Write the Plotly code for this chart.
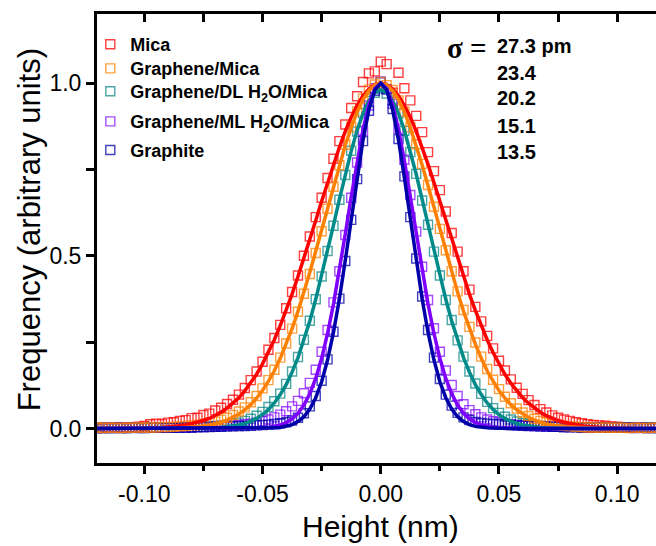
import numpy as np
import plotly.graph_objects as go

# Height bins (nm), 0.0025 nm spacing
X = np.round(np.arange(-48, 49) * 0.0025, 4)

SERIES = ["Mica", "Graphene/Mica", "Graphene/DL H<sub>2</sub>O/Mica",
          "Graphene/ML H<sub>2</sub>O/Mica", "Graphite"]
SIGMA_LABELS = ["27.3 pm", "23.4", "20.2", "15.1", "13.5"]

RED_PTS = [0.002,0.003,0.002,0.003,0.003,0.004,0.004,0.005,0.007,
           0.012,0.014,0.013,0.017,0.018,0.022,0.024,0.030,0.031,0.039,
           0.043,0.052,0.060,0.071,0.083,0.098,0.117,0.140,0.165,0.193,
           0.228,0.262,0.300,0.348,0.395,0.443,0.500,0.556,0.612,0.668,
           0.725,0.781,0.832,0.880,0.928,0.962,1.003,1.028,1.034,
           1.062,
           1.055,0.972,1.030,0.985,0.950,0.905,0.858,0.800,0.745,0.690,
           0.628,0.566,0.512,0.455,0.402,0.352,0.310,0.268,0.232,0.196,
           0.168,0.142,0.118,0.100,0.082,0.068,0.056,0.046,0.038,0.031,
           0.026,0.022,0.018,0.015,0.012,0.010,0.009,0.008,0.006,0.005,
           0.004,0.003,0.003,0.002,0.003,0.002,0.002,0.002]
RED_FIT = [0,0,0,0,0,0,0,
           0.001,0.001,0.002,0.002,0.003,0.004,0.006,0.008,0.010,0.014,
           0.018,0.023,0.029,0.037,0.047,0.059,0.073,0.089,0.109,0.131,
           0.157,0.187,0.220,0.257,0.298,0.342,0.389,0.440,0.492,0.547,
           0.602,0.658,0.712,0.765,0.814,0.860,0.901,0.935,0.963,0.983,0.996,
           1.000,
           0.996,0.983,0.963,0.935,0.901,0.860,0.814,0.765,0.712,0.658,0.602,
           0.547,0.492,0.440,0.389,0.342,0.298,0.257,0.220,0.187,0.157,
           0.131,0.109,0.089,0.073,0.059,0.047,0.037,0.029,0.023,0.018,
           0.014,0.010,0.008,0.006,0.004,0.003,0.002,0.002,0.001,0.001,
           0,0,0,0,0,0,0]

ORANGE_PTS = [0.002,0.001,0.002,0.002,0.001,0.002,0.002,0.003,0.002,0.003,0.003,0.004,0.004,
              0.005,0.006,0.007,0.009,0.010,0.013,0.016,0.020,0.025,0.031,
              0.039,0.049,0.061,0.076,0.094,0.116,0.140,0.170,0.205,0.246,
              0.289,0.338,0.390,0.447,0.508,0.571,0.636,0.700,0.762,0.822,
              0.873,0.918,0.955,0.981,0.996,
              1.003,
              0.994,0.980,0.950,0.917,0.872,0.823,0.766,0.705,0.642,0.578,
              0.516,0.455,0.397,0.343,0.294,0.249,0.208,0.172,0.141,0.114,
              0.092,0.073,0.058,0.046,0.036,0.028,0.022,0.017,0.013,0.010,
              0.008,0.006,0.005,0.004,0.003,0.003,
              0.002,0.003,0.002,0.002,0.002,0.001,0.002,0.002,0.001,0.002,0.002,0.001]
ORANGE_FIT = [0,0,0,0,0,0,0,0,0,0,0,0,
              0.001,0.001,0.002,0.003,0.004,0.005,0.007,0.010,0.013,0.018,
              0.024,0.032,0.042,0.054,0.069,0.088,0.110,0.137,0.167,0.203,
              0.244,0.289,0.339,0.394,0.452,0.513,0.576,0.640,0.703,0.763,
              0.820,0.871,0.916,0.952,0.978,0.995,
              1.000,
              0.995,0.978,0.952,0.916,0.871,0.820,
              0.763,0.703,0.640,0.576,0.513,0.452,0.394,0.339,0.289,0.244,
              0.203,0.167,0.137,0.110,0.088,0.069,0.054,0.042,0.032,0.024,
              0.018,0.013,0.010,0.007,0.005,0.004,0.003,0.002,0.001,0.001,
              0,0,0,0,0,0,0,0,0,0,0,0]

TEAL_PTS = [0.001,0.002,0.001,0.001,0.002,0.001,0.002,0.002,0.001,0.002,
            0.002,0.002,0.003,0.002,0.003,0.003,0.004,0.004,0.005,
            0.006,0.007,0.009,0.011,0.014,0.017,0.022,0.028,0.037,0.048,
            0.062,0.079,0.101,0.129,0.165,0.207,0.257,0.312,0.374,0.440,
            0.514,0.587,0.662,0.734,0.804,0.860,0.913,0.948,0.972,
            0.985,
            0.970,0.950,0.912,0.862,0.800,0.737,0.660,0.590,0.512,0.443,
            0.372,0.314,0.255,0.208,0.165,0.130,0.100,0.077,0.059,0.045,
            0.034,0.026,0.020,0.015,0.012,0.009,0.008,0.006,0.005,
            0.005,0.004,0.004,0.004,0.003,0.004,0.003,0.003,0.004,0.003,
            0.003,0.004,0.003,0.004,0.003,0.004,0.004,0.003,0.004]
TEAL_FIT = [0,0,0,0,0,0,0,0,0,0,0,0,0,0,0,0,0,0,0,
            0.001,0.002,0.003,0.005,0.007,0.010,0.014,0.021,0.029,0.040,
            0.055,0.074,0.098,0.127,0.163,0.205,0.255,0.311,0.374,0.442,
            0.514,0.588,0.663,0.736,0.803,0.863,0.912,0.949,0.972,
            0.980,
            0.972,0.949,0.912,0.863,0.803,0.736,0.663,0.588,0.514,
            0.442,0.374,0.311,0.255,0.205,0.163,0.127,0.098,0.074,0.055,
            0.040,0.029,0.021,0.014,0.010,0.007,0.005,0.003,0.002,0.001,
            0,0,0,0,0,0,0,0,0,0,0,0,0,0,0,0,0,0,0]

VIOLET_PTS = [0.001,0.001,0.002,0.001,0.002,0.001,0.002,0.002,0.001,0.002,0.002,0.002,
              0.003,0.002,0.003,0.003,0.003,0.004,0.004,0.005,0.005,0.006,0.007,
              0.008,0.010,0.012,0.014,0.017,0.021,0.026,0.032,0.040,0.050,
              0.064,0.080,0.102,0.132,0.170,0.222,0.285,0.365,0.455,0.560,
              0.668,0.770,0.862,0.935,0.985,
              1.005,
              0.982,0.940,0.868,0.778,0.676,0.570,0.468,0.372,0.290,0.222,
              0.168,0.126,0.094,0.070,0.053,0.041,0.032,0.026,0.021,0.017,
              0.014,0.012,0.010,0.009,0.008,
              0.007,0.006,0.006,0.005,0.005,0.004,0.004,0.004,0.003,0.003,0.003,0.003,
              0.002,0.003,0.002,0.002,0.002,0.002,0.002,0.001,0.002,0.001,0.001]
VIOLET_FIT = [0,0,0,0,0,0,0,0,0,0,0,0,0,0,0,0,0,0,0,0,0,0,0,0,0,0,0,
              0.001,0.002,0.003,0.006,0.010,0.017,0.028,0.044,0.068,0.101,
              0.145,0.203,0.275,0.360,0.458,0.563,0.671,0.775,0.866,0.938,0.984,
              1.000,
              0.984,0.938,0.866,0.775,0.671,0.563,0.458,0.360,0.275,0.203,0.145,
              0.101,0.068,0.044,0.028,0.017,0.010,0.006,0.003,0.002,0.001,
              0,0,0,0,0,0,0,0,0,0,0,0,0,0,0,0,0,0,0,0,0,0,0,0,0,0,0]

NAVY_PTS = [0.001,0.001,0.001,0.002,0.001,0.001,0.002,0.001,0.002,0.002,0.002,0.002,
            0.003,0.002,0.003,0.003,0.003,0.004,0.004,0.004,0.005,0.005,0.006,0.006,0.007,
            0.007,0.008,0.009,0.010,0.011,0.013,0.015,0.018,0.023,0.031,
            0.044,0.064,0.094,0.138,0.200,0.280,0.376,0.485,0.604,0.722,
            0.832,0.920,0.978,
            1.002,
            0.982,0.925,0.838,0.730,0.612,0.492,0.382,0.285,0.205,0.143,
            0.098,0.066,0.045,0.032,0.024,0.019,0.016,0.014,0.013,0.012,
            0.011,0.010,0.009,
            0.008,0.007,0.007,0.006,0.006,0.005,0.005,0.004,0.004,0.004,0.003,0.003,
            0.003,0.003,0.002,0.002,0.002,0.002,0.002,0.001,0.002,0.001,0.001,0.001,0.001]
NAVY_FIT = [0,0,0,0,0,0,0,0,0,0,0,0,0,0,0,0,0,0,0,0,0,0,0,0,0,0,0,0,0,
            0.001,0.002,0.003,0.006,0.011,0.020,0.034,0.056,0.089,0.135,
            0.198,0.278,0.375,0.487,0.607,0.726,0.835,0.923,0.980,
            1.000,
            0.980,0.923,0.835,0.726,0.607,0.487,0.375,0.278,0.198,
            0.135,0.089,0.056,0.034,0.020,0.011,0.006,0.003,0.002,0.001,
            0,0,0,0,0,0,0,0,0,0,0,0,0,0,0,0,0,0,0,0,0,0,0,0,0,0,0,0,0]

POINTS = [RED_PTS, ORANGE_PTS, TEAL_PTS, VIOLET_PTS, NAVY_PTS]
FITS = [RED_FIT, ORANGE_FIT, TEAL_FIT, VIOLET_FIT, NAVY_FIT]
for arr in POINTS + FITS:
    assert len(arr) == len(X), len(arr)

LINE_COLORS = ["#ff0000", "#ff8000", "#008a8a", "#8000ff", "#0000a8"]
MARK_COLORS = ["rgba(255,0,0,0.75)", "rgba(255,128,0,0.75)", "rgba(0,128,128,0.7)",
               "rgba(128,0,255,0.7)", "rgba(0,0,168,0.75)"]

FONT = "Liberation Sans, Arial, sans-serif"
# pixel geometry of the plot area (for placing legend entries / labels)
PL, PT, PW, PH = 96.7, 14.0, 559.3, 449.0


def py(ypix):
    return 1 - (ypix - PT) / PH


def px(xpix):
    return (xpix - PL) / PW


LEGEND_Y = [44.5, 68.7, 91.5, 121.7, 150.3]
LEGEND_NAMES = ["legend", "legend2", "legend3", "legend4", "legend5"]

fig = go.Figure()

draw_order = [0, 2, 3, 4, 1]
for i in draw_order:
    fig.add_trace(go.Scatter(
        x=X, y=POINTS[i], mode="markers", name="<b>%s</b>" % SERIES[i],
        legend=LEGEND_NAMES[i],
        marker=dict(symbol="square-open", size=9, color=MARK_COLORS[i],
                    line=dict(width=1.4, color=MARK_COLORS[i])),
        showlegend=True))
for i in range(5):
    fig.add_trace(go.Scatter(
        x=X, y=FITS[i], mode="lines", line=dict(color=LINE_COLORS[i], width=3.5),
        showlegend=False, hoverinfo="skip"))
# invisible trace to activate top axis
fig.add_trace(go.Scatter(x=[], y=[], xaxis="x2", showlegend=False))

legend_layout = {}
for name, ly in zip(LEGEND_NAMES, LEGEND_Y):
    legend_layout[name] = dict(x=px(90), y=py(ly), xanchor="left", yanchor="middle",
                               bgcolor="rgba(0,0,0,0)", font=dict(size=18, family=FONT),
                               itemwidth=30, borderwidth=0)

XMIN, XMAX = -0.12, 0.1164
fig.update_layout(
    width=656, height=546,
    margin=dict(l=97, r=0, t=14, b=83),
    paper_bgcolor="white", plot_bgcolor="white",
    font=dict(family=FONT, color="black"),
    showlegend=True,
    **legend_layout,
    xaxis=dict(range=[XMIN, XMAX], showgrid=False, zeroline=False,
               showline=True, linewidth=3, linecolor="black",
               ticks="outside", ticklen=8, tickwidth=2.5, tickcolor="black",
               tickmode="array", tickvals=[-0.10, -0.05, 0.0, 0.05, 0.10],
               ticktext=["-0.10", "-0.05", "0.00", "0.05", "0.10"],
               tickfont=dict(size=23, family=FONT),
               minor=dict(tickvals=[-0.075, -0.025, 0.025, 0.075], ticks="outside",
                          ticklen=5, tickwidth=2.5, tickcolor="black")),
    xaxis2=dict(range=[XMIN, XMAX], overlaying="x", side="top", anchor="y",
                showgrid=False, zeroline=False, showline=True, linewidth=3,
                linecolor="black", ticks="inside", ticklen=8, tickwidth=2.5,
                tickcolor="black", tickmode="linear", tick0=0, dtick=0.025,
                showticklabels=False),
    yaxis=dict(range=[-0.1, 1.2], showgrid=False, zeroline=False,
               showline=True, linewidth=3, linecolor="black",
               ticks="outside", ticklen=8, tickwidth=2.5, tickcolor="black",
               tickmode="array", tickvals=[0.0, 0.5, 1.0],
               ticktext=["0.0", "0.5", "1.0"],
               tickfont=dict(size=23, family=FONT),
               minor=dict(tickvals=[0.25, 0.75], ticks="outside",
                          ticklen=8, tickwidth=2.5, tickcolor="black")),
)

annotations = [
    dict(text="Height (nm)", xref="x", yref="paper", x=0.0, y=-0.1425,
         xanchor="center", yanchor="middle", showarrow=False,
         font=dict(size=30, family=FONT)),
    dict(text="Frequency (arbitrary units)", xref="paper", yref="paper",
         x=px(30), y=py(229), textangle=-90, xanchor="center", yanchor="middle",
         showarrow=False, font=dict(size=31, family=FONT)),
    dict(text="<b>σ =</b>", xref="paper", yref="paper", x=px(489), y=py(47.5),
         xanchor="right", yanchor="middle", showarrow=False,
         font=dict(size=29, family="Liberation Serif, serif")),
]
sig_ypix = [46.3, 72.5, 98.3, 125.8, 151.5]
for lab, yy in zip(SIGMA_LABELS, sig_ypix):
    annotations.append(dict(text="<b>%s</b>" % lab, xref="paper", yref="paper",
                            x=px(495), y=py(yy), xanchor="left", yanchor="middle",
                            showarrow=False, font=dict(size=20, family=FONT)))
fig.update_layout(annotations=annotations)

fig.write_html("out.html")
